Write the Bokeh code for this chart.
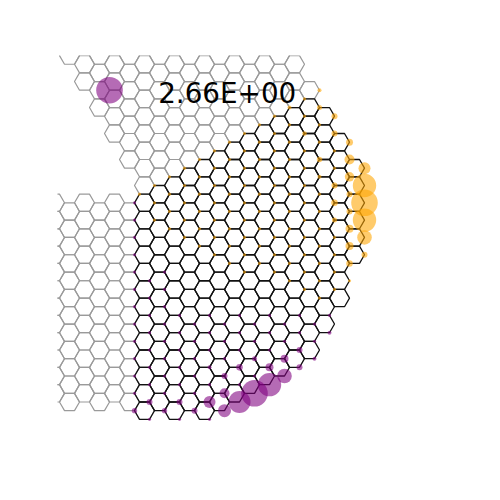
import numpy as np
from bokeh.plotting import figure
from bokeh.models import Label, Range1d, ColumnDataSource
from bokeh.embed import file_html
from bokeh.resources import INLINE

VALUE_LABEL = "2.66E+00"

# ---- lattice cells (flat-top hexagons, axial q/r) ----
# scattering region (black)
black_q    = [0, 1, 2, 3, 4, 5, 6, 7, 8, 9, 10, 11, 12, 13, 14]
black_rmin = [0, -1, -2, -3, -4, -5, -6, -7, -8, -9, -10, -11, -11, -10, -9]
black_rmax = [12, 11, 11, 10, 10, 9, 8, 7, 6, 5, 4, 3, 1, -1, -4]

# upper-left lead (gray)
lead1_q    = [-5, -4, -3, -2, -1, 0, 1, 2, 3, 4, 5, 6, 7, 8, 9, 10, 11]
lead1_rmin = [-6, -6, -7, -7, -8, -8, -9, -9, -10, -10, -11, -11, -12, -12, -13, -13, -12]
lead1_rmax = [-6, -5, -4, -3, -2, -1, -2, -3, -4, -5, -6, -7, -8, -9, -10, -11, -12]

# left lead (gray)
lead2_q    = [-6, -5, -4, -3, -2, -1]
lead2_rmin = [3, 3, 2, 2, 1, 1]
lead2_rmax = [14, 14, 13, 13, 12, 12]

# ---- site amplitudes (circle radius, px) ----
# small dots: sublattice B (orange) down to row, sublattice A (purple) from row
tinyB_q    = [-1, 0, 1, 2, 3, 4, 5, 6, 7, 8, 9, 10, 11, 12, 13, 14]
tinyB_rmax = [0, 1, 1, 1, 1, 1, 1, 1, 0, 0, 0, 0, 0, -1, -2, -4]
tinyA_q    = [0, 1, 2, 3, 4, 5, 6, 7, 8, 9, 10, 11, 12, 13]
tinyA_rmin = [0, 4, 3, 5, 5, 4, 4, 3, 3, 2, 2, 1, 1, 0]
TINY = 1.6

# larger circles: sublattice, q, r, radius
big_sub = ["B"] * 25 + ["A"] * 22 + ["L"]
big_q = [14, 14, 14, 14, 14, 14, 13, 13, 13, 13, 13, 13, 13, 13, 12, 12, 12, 12, 12, 11, 11, 11, 11, 10, 9,
         5, 6, 6, 7, 8, 9, 10, 10, 11, 11, 9, 7, 6, 5, 8, 0, 1, 2, 3, 4, 12, 13,
         -3]
big_r = [-9, -8, -7, -6, -5, -4, -10, -9, -8, -7, -6, -5, -4, -3, -11, -10, -7, -6, -5, -12, -11, -8, -7, -9, -10,
         9, 9, 8, 8, 7, 6, 5, 4, 3, 4, 5, 6, 7, 7, 5, 12, 11, 11, 10, 10, 3, 1,
         -5]
big_rad = [6, 11.7, 13.3, 11.7, 7.3, 3, 3.5, 5, 4.7, 3, 3, 4, 4, 3.3, 3, 3, 3, 3.3, 2.5, 2, 2.5, 2.7, 2, 2.3, 2,
           6, 6.5, 5, 11, 13.3, 11.7, 7.3, 4, 3, 3, 4, 3.3, 3, 2, 2.5, 2.7, 3, 2.7, 3, 3, 2, 2,
           13.3]

SQ3 = np.sqrt(3.0)

def cells(qs, rmins, rmaxs):
    qq, rr = [], []
    for q, a, b in zip(qs, rmins, rmaxs):
        for r in range(a, b + 1):
            qq.append(q); rr.append(r)
    return qq, rr

def site_xy(sub, q, r):
    y = -SQ3 * (r + q / 2.0)
    x = 1.5 * q + (1.0 if sub in ("B", "L") else -1.0)
    return x, y

bq, br = cells(black_q, black_rmin, black_rmax)
l1q, l1r = cells(lead1_q, lead1_rmin, lead1_rmax)
l2q, l2r = cells(lead2_q, lead2_rmin, lead2_rmax)

black_set = set(zip(bq, br))
A_sites, B_sites = set(), set()
for q, r in black_set:
    A_sites.update([(q, r), (q + 1, r - 1), (q + 1, r)])
    B_sites.update([(q, r), (q - 1, r), (q - 1, r + 1)])

rad = {}
tb = dict(zip(tinyB_q, tinyB_rmax))
for (q, r) in B_sites:
    if q in tb and r <= tb[q]:
        rad[("B", q, r)] = TINY
ta = dict(zip(tinyA_q, tinyA_rmin))
for (q, r) in A_sites:
    if q in ta and r >= ta[q]:
        rad[("A", q, r)] = TINY
for s, q, r, v in zip(big_sub, big_q, big_r, big_rad):
    rad[(s, q, r)] = v

cx, cy, cr, cc = [], [], [], []
for (s, q, r), v in rad.items():
    x, y = site_xy(s, q, r)
    cx.append(x); cy.append(y); cr.append(v / 10.0)
    cc.append("#ffa500" if s == "B" else "#800080")

# ---- figure ----
p = figure(width=500, height=500, output_backend="svg", toolbar_location=None,
           x_range=Range1d(-8.7, 30.1), y_range=Range1d(-24.27, 14.73),
           min_border_left=57, min_border_right=55, min_border_top=55, min_border_bottom=55,
           x_axis_location=None, y_axis_location=None)
p.grid.visible = False
p.outline_line_color = None
p.background_fill_color = "white"
p.border_fill_color = "white"

p.hex_tile(q=l1q + l2q, r=l1r + l2r, size=1, orientation="flattop",
           fill_color=None, line_color="#9a9a9a", line_width=1.2)
p.hex_tile(q=bq, r=br, size=1, orientation="flattop",
           fill_color=None, line_color="#111111", line_width=1.3)

src = ColumnDataSource(dict(x=cx, y=cy, rad=cr, color=cc))
p.circle(x="x", y="y", radius="rad", source=src, fill_color="color",
         fill_alpha=0.58, line_color=None)

p.add_layout(Label(x=8.27, y=10.9, text=VALUE_LABEL, text_font="DejaVu Sans",
                   text_font_size="27.8px", text_align="center",
                   text_baseline="alphabetic", text_color="black"))

open("out.html", "w").write(file_html(p, INLINE))
